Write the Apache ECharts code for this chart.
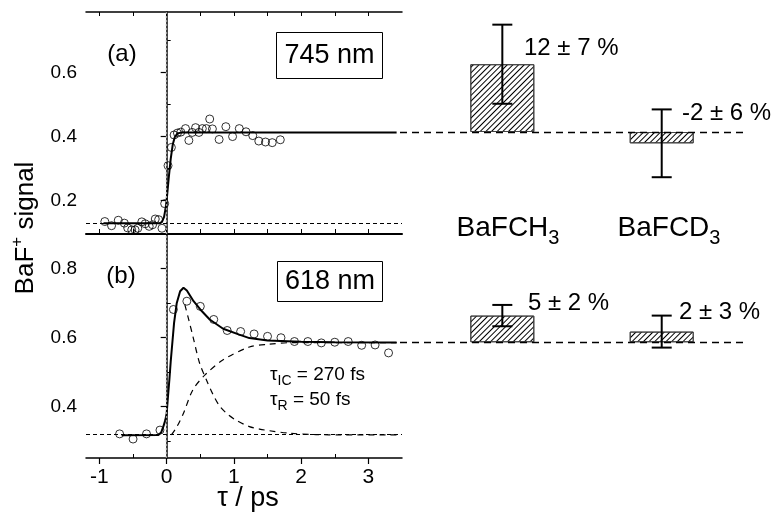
<!DOCTYPE html>
<html><head><meta charset="utf-8">
<script src="https://cdn.jsdelivr.net/npm/echarts@6/dist/echarts.min.js"></script>
<style>html,body{margin:0;padding:0;background:#fff}#c{width:777px;height:516px}</style>
</head><body><div id="c"></div>
<script>
const FONT = '"Liberation Sans", Arial, Helvetica, sans-serif';

// ---- Panel (a): 745 nm ----
const tA = [-0.92,-0.82,-0.72,-0.63,-0.58,-0.52,-0.47,-0.43,-0.37,-0.32,-0.26,-0.21,-0.17,-0.12,-0.07,-0.03,0.02,0.07,0.11,0.16,0.21,0.28,0.33,0.38,0.43,0.48,0.53,0.59,0.64,0.68,0.78,0.88,0.98,1.08,1.18,1.28,1.37,1.47,1.57,1.69];
const sA = [0.134,0.121,0.138,0.129,0.114,0.108,0.108,0.113,0.133,0.127,0.119,0.124,0.142,0.140,0.113,0.190,0.309,0.366,0.405,0.411,0.414,0.425,0.388,0.413,0.428,0.413,0.425,0.425,0.455,0.424,0.391,0.431,0.400,0.425,0.415,0.403,0.386,0.383,0.381,0.390];
const fitAt = [-0.94,-0.1,-0.07,-0.04,-0.02,0,0.03,0.06,0.09,0.12,0.16,0.22,3.42];
const fitAs = [0.129,0.129,0.133,0.148,0.17,0.202,0.27,0.33,0.375,0.398,0.41,0.413,0.413];
const baseA = 0.125;

// ---- Panel (b): 618 nm ----
const tB = [-0.7,-0.5,-0.3,-0.1,0.1,0.3,0.5,0.7,0.9,1.1,1.3,1.5,1.7,1.9,2.1,2.3,2.5,2.7,2.9,3.1,3.3];
const sB = [0.320,0.305,0.320,0.331,0.681,0.705,0.690,0.652,0.620,0.617,0.610,0.603,0.599,0.588,0.588,0.584,0.586,0.588,0.577,0.578,0.555];
const fitBt = [-0.67,-0.12,-0.08,-0.05,-0.02,0,0.02,0.04,0.06,0.08,0.11,0.15,0.2,0.25,0.3,0.4,0.5,0.64,0.84,1.08,1.23,1.5,2.0,2.5,3.42];
const fitBs = [0.316,0.317,0.325,0.341,0.36,0.38,0.43,0.477,0.53,0.575,0.642,0.70,0.734,0.744,0.736,0.705,0.681,0.652,0.625,0.608,0.598,0.591,0.587,0.586,0.585];
const decayBt = [0.27,0.33,0.39,0.49,0.59,0.69,0.79,0.9,1.03,1.23,1.38,1.53,1.82,2.22,2.6,3.42];
const decayBs = [0.695,0.65,0.603,0.525,0.477,0.434,0.40,0.378,0.36,0.341,0.334,0.329,0.322,0.318,0.317,0.317];
const riseBt = [0.07,0.15,0.25,0.39,0.57,0.84,1.23,1.5,1.9,3.42];
const riseBs = [0.317,0.34,0.38,0.448,0.491,0.535,0.572,0.580,0.585,0.585];
const baseB = 0.316;

// ---- Right: relative changes (%) ----
const categories = ['BaFCH', 'BaFCD'];
const catSub = ['3', '3'];
const pct745 = [12, -2];
const err745 = [7, 6];
const pct618 = [5, 2];
const err618 = [2, 3];

// ---- Tick labels ----
const xTickLabels = [-1, 0, 1, 2, 3];
const xHalfTicks = [-1, -0.5, 0, 0.5, 1, 1.5, 2, 2.5, 3];
const xMinor = [-0.5, 0.5, 1.5, 2.5];
const yTicksA = [0.2, 0.4, 0.6];
const yTicksB = [0.4, 0.6, 0.8];
const yMinor = [0.3, 0.5, 0.7];

const zip = (a, b) => a.map((v, i) => [v, b[i]]);
const AX = {lineStyle: {color: '#000', width: 1.5}};

function xAx(grid, pos, opts) {
  return Object.assign({
    gridIndex: grid, type: 'value', min: -1.2, max: 3.5, position: pos,
    axisLine: AX, splitLine: {show: false},
    axisTick: {show: false}, axisLabel: {show: false}
  }, opts);
}
function yAx(grid, min, max, opts) {
  return Object.assign({
    gridIndex: grid, type: 'value', min: min, max: max, position: 'left',
    axisLine: AX, splitLine: {show: false},
    axisTick: {show: false}, axisLabel: {show: false}
  }, opts);
}
const lblStyle = {color: '#000', fontFamily: FONT};

const hatch = {
  color: '#fff', borderColor: '#444', borderWidth: 1,
  decal: {symbol: 'rect', symbolSize: 1, dashArrayX: [1, 0], dashArrayY: [1, 3], rotation: -Math.PI / 4, color: '#000'}
};
function barSeries(xi, yi, vals) {
  return {
    type: 'bar', xAxisIndex: xi, yAxisIndex: yi, barWidth: 64,
    data: vals.map((v, i) => [i + 1, v]), itemStyle: hatch,
    markLine: {silent: true, symbol: ['none', 'none'], label: {show: false},
      lineStyle: {color: '#000', type: [7, 5], width: 1.4}, data: [{yAxis: 0}]}
  };
}
function errSeries(xi, yi, vals, errs) {
  return {
    type: 'custom', xAxisIndex: xi, yAxisIndex: yi, z: 10,
    data: vals.map((v, i) => [i + 1, v, errs[i]]),
    renderItem: (params, api) => {
      const x = api.value(0), v = api.value(1), e = api.value(2);
      const top = api.coord([x, v + e]), bot = api.coord([x, v - e]);
      const hw = 10, st = {stroke: '#000', lineWidth: 2};
      return {type: 'group', children: [
        {type: 'line', shape: {x1: top[0], y1: top[1], x2: bot[0], y2: bot[1]}, style: st},
        {type: 'line', shape: {x1: top[0] - hw, y1: top[1], x2: top[0] + hw, y2: top[1]}, style: st},
        {type: 'line', shape: {x1: bot[0] - hw, y1: bot[1], x2: bot[0] + hw, y2: bot[1]}, style: st}
      ]};
    }
  };
}
function refLines(base) {
  return {silent: true, symbol: ['none', 'none'], label: {show: false},
    data: [
      {xAxis: 0, lineStyle: {color: '#9a9a9a', type: [2, 2], width: 1.3}},
      {yAxis: base, lineStyle: {color: '#000', type: [4, 3], width: 1}}
    ]};
}
const scat = {symbol: 'circle', symbolSize: 8, itemStyle: {color: 'rgba(0,0,0,0)', borderColor: '#000', borderWidth: 1}, z: 4};

const option = {
  animation: false,
  backgroundColor: '#fff',
  grid: [
    {left: 86, top: 12, width: 316, height: 222},
    {left: 86, top: 234, width: 316, height: 224},
    {left: 400, top: 12, width: 343, height: 222},
    {left: 400, top: 234, width: 343, height: 224}
  ],
  xAxis: [
    xAx(0, 'bottom', {axisTick: {show: true, inside: true, length: 5, customValues: xHalfTicks, lineStyle: {color: '#000'}}, axisLine: {lineStyle: {color: '#000', width: 2}}}),
    xAx(0, 'top', {axisTick: {show: true, inside: true, length: 4, customValues: xHalfTicks, lineStyle: {color: '#000'}}}),
    xAx(1, 'bottom', {
      axisTick: {show: true, inside: false, length: 6, customValues: xTickLabels, lineStyle: {color: '#000', width: 1.2}},
      axisLabel: Object.assign({show: true, fontSize: 21, margin: 9, customValues: xTickLabels}, lblStyle)
    }),
    xAx(1, 'bottom', {axisLine: {show: false}, axisTick: {show: true, inside: true, length: 4, customValues: xMinor, lineStyle: {color: '#000'}}}),
    {gridIndex: 2, type: 'value', min: 0.358, max: 2.51, show: false},
    {gridIndex: 3, type: 'value', min: 0.358, max: 2.51, show: false}
  ],
  yAxis: [
    yAx(0, 0.095, 0.79, {
      axisTick: {show: true, inside: false, length: 6, customValues: yTicksA, lineStyle: {color: '#000', width: 1.2}},
      axisLabel: Object.assign({show: true, fontSize: 19, margin: 9, customValues: yTicksA, formatter: v => v.toFixed(1)}, lblStyle)
    }),
    yAx(0, 0.095, 0.79, {axisLine: {show: false}, axisTick: {show: true, inside: true, length: 4, customValues: yMinor, lineStyle: {color: '#000'}}}),
    yAx(1, 0.25, 0.9, {
      axisTick: {show: true, inside: false, length: 6, customValues: yTicksB, lineStyle: {color: '#000', width: 1.2}},
      axisLabel: Object.assign({show: true, fontSize: 19, margin: 9, customValues: yTicksB, formatter: v => v.toFixed(1)}, lblStyle)
    }),
    yAx(1, 0.25, 0.9, {axisLine: {show: false}, axisTick: {show: true, inside: true, length: 4, customValues: yMinor, lineStyle: {color: '#000'}}}),
    {gridIndex: 2, type: 'value', min: -18.05, max: 21.24, show: false},
    {gridIndex: 3, type: 'value', min: -21.7, max: 20.3, show: false}
  ],
  series: [
    {type: 'line', xAxisIndex: 0, yAxisIndex: 0, data: zip(fitAt, fitAs), symbol: 'none',
      lineStyle: {color: '#000', width: 2}, markLine: refLines(baseA)},
    Object.assign({type: 'scatter', xAxisIndex: 0, yAxisIndex: 0, data: zip(tA, sA)}, scat),
    {type: 'line', xAxisIndex: 2, yAxisIndex: 2, data: zip(fitBt, fitBs), symbol: 'none',
      lineStyle: {color: '#000', width: 2}, markLine: refLines(baseB)},
    {type: 'line', xAxisIndex: 2, yAxisIndex: 2, data: zip(decayBt, decayBs), symbol: 'none', smooth: 0.3,
      lineStyle: {color: '#000', width: 1.2, type: [6, 5]}},
    {type: 'line', xAxisIndex: 2, yAxisIndex: 2, data: zip(riseBt, riseBs), symbol: 'none', smooth: 0.3,
      lineStyle: {color: '#000', width: 1.2, type: [6, 5]}},
    Object.assign({type: 'scatter', xAxisIndex: 2, yAxisIndex: 2, data: zip(tB, sB)}, scat),
    barSeries(4, 4, pct745),
    errSeries(4, 4, pct745, err745),
    barSeries(5, 5, pct618),
    errSeries(5, 5, pct618, err618)
  ],
  graphic: []
};

const T = (x, y, text, size, extra) => ({type: 'text', x: x, y: y, z: 100,
  style: Object.assign({text: text, fontSize: size, fontFamily: FONT, fill: '#000', align: 'center', verticalAlign: 'middle'}, extra || {})});
const fmtPct = (v, e) => v + ' \u00b1 ' + e + ' %';

option.graphic = [
  // y title
  {type: 'text', x: 26, y: 228, rotation: Math.PI / 2, z: 100, style: {
    text: '{m|BaF}{s|+}{m| signal}', align: 'center', verticalAlign: 'middle', fill: '#000',
    rich: {m: {fontSize: 26, fontFamily: FONT, lineHeight: 34}, s: {fontSize: 17, fontFamily: FONT, lineHeight: 22, verticalAlign: 'top'}}}},
  T(248, 499, '\u03c4 / ps', 27),
  T(122, 54, '(a)', 24),
  T(121, 276, '(b)', 24),
  {type: 'rect', z: 90, shape: {x: 276.5, y: 32.5, width: 106, height: 46}, style: {fill: '#fff', stroke: '#000', lineWidth: 1}},
  T(329.5, 56, '745 nm', 27),
  {type: 'rect', z: 90, shape: {x: 277.5, y: 261.5, width: 105, height: 40}, style: {fill: '#fff', stroke: '#000', lineWidth: 1}},
  T(330, 282, '618 nm', 27),
  {type: 'text', x: 270, y: 375, z: 100, style: {text: '{t|\u03c4}{s|IC}{t| = 270 fs}', align: 'left', verticalAlign: 'middle', fill: '#000',
    rich: {t: {fontSize: 19, fontFamily: FONT, lineHeight: 26}, s: {fontSize: 14, fontFamily: FONT, lineHeight: 13, verticalAlign: 'bottom'}}}},
  {type: 'text', x: 270, y: 400, z: 100, style: {text: '{t|\u03c4}{s|R}{t| = 50 fs}', align: 'left', verticalAlign: 'middle', fill: '#000',
    rich: {t: {fontSize: 19, fontFamily: FONT, lineHeight: 26}, s: {fontSize: 14, fontFamily: FONT, lineHeight: 13, verticalAlign: 'bottom'}}}},
  T(524, 48, fmtPct(pct745[0], err745[0]), 24, {align: 'left'}),
  T(682, 113, fmtPct(pct745[1], err745[1]), 24, {align: 'left'}),
  T(528, 303, fmtPct(pct618[0], err618[0]), 24, {align: 'left'}),
  T(679, 312, fmtPct(pct618[1], err618[1]), 24, {align: 'left'}),
  {type: 'text', x: 508, y: 228, z: 100, style: {text: '{m|' + categories[0] + '}{s|' + catSub[0] + '}', align: 'center', verticalAlign: 'middle', fill: '#000',
    rich: {m: {fontSize: 28, fontFamily: FONT, lineHeight: 40}, s: {fontSize: 20, fontFamily: FONT, lineHeight: 20, verticalAlign: 'bottom'}}}},
  {type: 'text', x: 669, y: 228, z: 100, style: {text: '{m|' + categories[1] + '}{s|' + catSub[1] + '}', align: 'center', verticalAlign: 'middle', fill: '#000',
    rich: {m: {fontSize: 28, fontFamily: FONT, lineHeight: 40}, s: {fontSize: 20, fontFamily: FONT, lineHeight: 20, verticalAlign: 'bottom'}}}}
];

const chart = echarts.init(document.getElementById('c'), null, {renderer: 'canvas'});
chart.setOption(option);
</script>
</body></html>
